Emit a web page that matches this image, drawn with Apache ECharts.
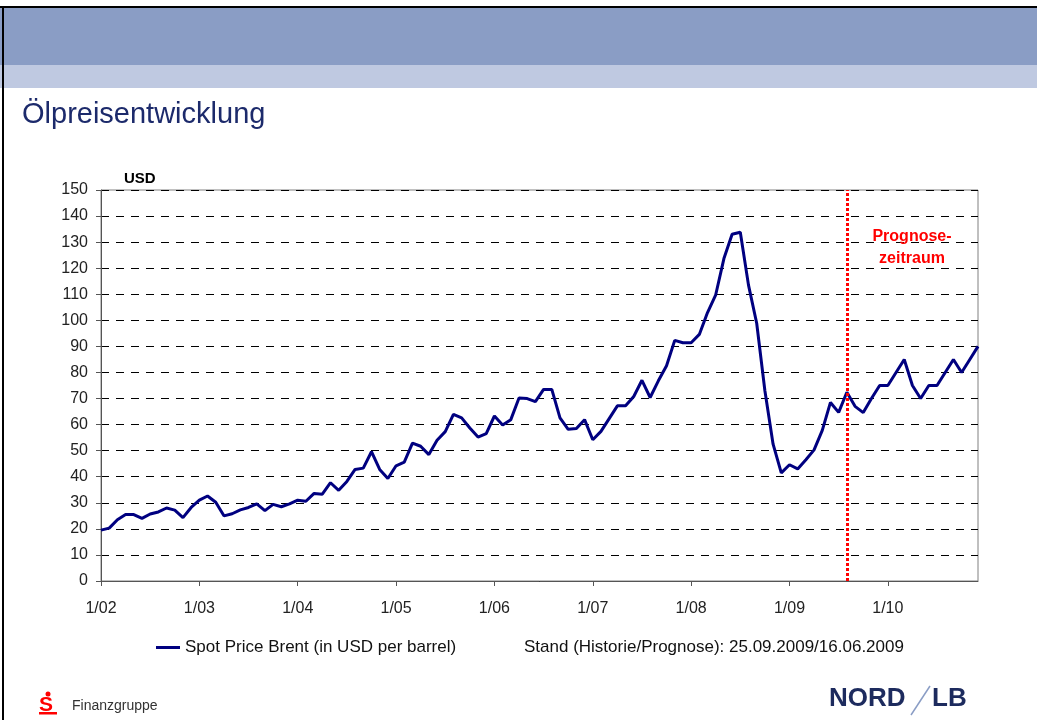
<!DOCTYPE html>
<html>
<head>
<meta charset="utf-8">
<script src="https://cdn.jsdelivr.net/npm/echarts@6/dist/echarts.min.js"></script>
<style>
html,body{margin:0;padding:0;background:#fff;}
#chart{width:1037px;height:720px;}
</style>
</head>
<body>
<div id="chart"></div>
<script>
// ---- data ----
const years = ['02','03','04','05','06','07','08','09','10'];
const brent2002 = [19.5, 20.3, 23.5, 25.5, 25.5, 24.0, 25.7, 26.5, 28.0, 27.2, 24.3, 28.2];
const brent2003 = [31.0, 32.6, 30.2, 25.0, 25.8, 27.3, 28.2, 29.6, 27.0, 29.4, 28.5, 29.6];
const brent2004 = [31.0, 30.6, 33.6, 33.3, 37.7, 34.8, 38.2, 42.8, 43.3, 49.6, 42.8, 39.3];
const brent2005 = [44.2, 45.6, 52.9, 51.7, 48.5, 54.0, 57.3, 63.9, 62.6, 58.7, 55.2, 56.5];
const brent2006 = [63.3, 59.8, 61.9, 70.2, 70.0, 68.8, 73.5, 73.5, 62.6, 58.2, 58.5, 61.9];
const brent2007 = [54.2, 57.4, 62.3, 67.2, 67.2, 70.8, 77.0, 70.4, 76.8, 82.6, 92.3, 91.4];
const brent2008 = [91.4, 94.6, 103.0, 109.8, 123.7, 133.0, 133.8, 113.5, 98.9, 73.0, 52.5, 41.5];
const brent2009 = [44.6, 43.0, 46.5, 50.3, 57.8, 68.5, 64.7, 72.4, 67.0, 64.6, 70.0, 75.0];
const brent2010 = [75.0, 80.0, 85.0, 75.0, 70.0, 75.0, 75.0, 80.0, 85.0, 80.0, 85.0, 90.0];
const forecastStart = '8/09';
const yTicks = {min: 0, max: 150, step: 10};
const seriesName = 'Spot Price Brent (in USD per barrel)';
const standText = 'Stand (Historie/Prognose): 25.09.2009/16.06.2009';

const categories = [];
years.forEach(y => { for (let m = 1; m <= 12; m++) categories.push(m + '/' + y); });
const values = [].concat(brent2002, brent2003, brent2004, brent2005, brent2006,
                         brent2007, brent2008, brent2009, brent2010);

const FONT = "'Liberation Sans', Arial, sans-serif";
const chart = echarts.init(document.getElementById('chart'), null, {renderer: 'canvas'});

chart.setOption({
  backgroundColor: '#ffffff',
  animation: false,
  textStyle: {fontFamily: FONT},
  grid: {left: 101, right: 59, top: 190, bottom: 139, show: true, borderColor: '#808080', borderWidth: 1, backgroundColor: 'transparent'},
  xAxis: {
    type: 'category',
    data: categories,
    boundaryGap: false,
    axisLine: {show: true, lineStyle: {color: '#555', width: 1}},
    axisTick: {show: true, length: 5, lineStyle: {color: '#555'},
               interval: (i) => i % 12 === 0},
    axisLabel: {interval: (i) => i % 12 === 0, color: '#222', fontSize: 16, margin: 20, fontFamily: FONT},
    splitLine: {show: false}
  },
  yAxis: {
    type: 'value',
    min: yTicks.min, max: yTicks.max, interval: yTicks.step,
    axisLine: {show: true, lineStyle: {color: '#555', width: 1}},
    axisTick: {show: true, length: 5, lineStyle: {color: '#555'}},
    axisLabel: {color: '#222', fontSize: 16, margin: 13, fontFamily: FONT},
    splitLine: {show: true, lineStyle: {color: '#000', width: 1, type: [8, 7]}}
  },
  legend: {
    show: true,
    left: 151, top: 634,
    icon: 'rect', itemWidth: 24, itemHeight: 3, itemGap: 20,
    textStyle: {fontSize: 17, color: '#111', fontFamily: FONT},
    data: [seriesName]
  },
  series: [{
    name: seriesName,
    type: 'line',
    data: values,
    symbol: 'none',
    lineStyle: {color: '#000080', width: 3},
    itemStyle: {color: '#000080'},
    markLine: {
      silent: true,
      symbol: ['none', 'none'],
      label: {show: false},
      lineStyle: {color: '#ff0000', width: 3, type: [3, 2]},
      data: [{xAxis: forecastStart}]
    }
  }],
  graphic: [
    // header bands
    {type: 'rect', left: 0, top: 0, shape: {width: 1037, height: 7}, style: {fill: '#ffffff'}, z: 0},
    {type: 'rect', left: 0, top: 7, shape: {width: 1037, height: 58}, style: {fill: '#8a9dc5'}, z: 0},
    {type: 'rect', left: 0, top: 65, shape: {width: 1037, height: 23}, style: {fill: '#bfc9e1'}, z: 0},
    {type: 'line', shape: {x1: 0, y1: 7, x2: 1037, y2: 7}, style: {stroke: '#000', lineWidth: 2}, z: 1},
    {type: 'line', shape: {x1: 3, y1: 7, x2: 3, y2: 720}, style: {stroke: '#000', lineWidth: 2}, z: 1},
    // title
    {type: 'text', left: 22, top: 100, style: {text: 'Ölpreisentwicklung', fontSize: 29, fill: '#1c2a6b', fontFamily: FONT}, z: 5},
    // USD
    {type: 'text', left: 124, top: 171, style: {text: 'USD', fontSize: 15, fontWeight: 'bold', fill: '#000', fontFamily: FONT}, z: 5},
    // Prognose label
    {type: 'text', x: 912, y: 226, style: {text: 'Prognose-\nzeitraum', fontSize: 16, fontWeight: 'bold', fill: '#ff0000', align: 'center', lineHeight: 22, fontFamily: FONT}, z: 5},
    // Stand text
    {type: 'text', left: 524, top: 639, style: {text: standText, fontSize: 17, fill: '#111', fontFamily: FONT}, z: 5},
    // Sparkasse logo
    {type: 'circle', shape: {cx: 48, cy: 694, r: 2.5}, style: {fill: '#ff0000'}, z: 5},
    {type: 'text', left: 39, top: 695, style: {text: 'S', fontSize: 21, fontWeight: 'bold', fill: '#ff0000', fontFamily: FONT}, z: 5},
    {type: 'rect', left: 39, top: 712, shape: {width: 18, height: 2.5}, style: {fill: '#ff0000'}, z: 5},
    {type: 'text', left: 72, top: 699, style: {text: 'Finanzgruppe', fontSize: 14, fill: '#333', fontFamily: FONT}, z: 5},
    // NORD/LB logo
    {type: 'text', left: 829, top: 686, style: {text: 'NORD', fontSize: 26, fontWeight: 'bold', fill: '#1d2b5e', fontFamily: FONT}, z: 5},
    {type: 'line', shape: {x1: 911, y1: 715, x2: 930, y2: 686}, style: {stroke: '#8a9dc5', lineWidth: 1.5}, z: 5},
    {type: 'text', left: 932, top: 686, style: {text: 'LB', fontSize: 26, fontWeight: 'bold', fill: '#1d2b5e', fontFamily: FONT}, z: 5}
  ]
});
</script>
</body>
</html>
